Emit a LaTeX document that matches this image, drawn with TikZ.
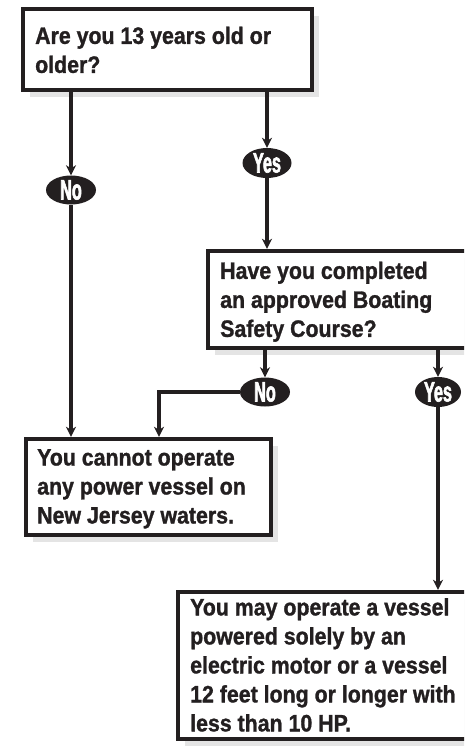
\documentclass[tikz,border=0pt]{standalone}
\usepackage{fontspec}
\newfontfamily\boxfont[FakeStretch=0.90,FakeBold=1.2]{Liberation Sans}
\newfontfamily\ovalfont[FakeStretch=0.58,FakeBold=2]{Liberation Sans}
\usetikzlibrary{arrows.meta,shapes.geometric,shadows}
\definecolor{ink}{HTML}{231F20}
\definecolor{shade}{HTML}{E4E4E4}
\begin{document}
\begin{tikzpicture}[x=1pt,y=-1pt,
  box/.style={rectangle, draw=ink, line width=4.4pt, fill=white, inner sep=0pt,
    drop shadow={shadow xshift=7pt, shadow yshift=-7pt, fill=shade, opacity=1}},
  txt/.style={anchor=north west, inner sep=0pt, align=left, text=ink,
    font=\boxfont\bfseries\fontsize{23.7pt}{29pt}\selectfont},
  oval/.style={ellipse, fill=ink, inner sep=0pt, minimum width=50pt, minimum height=29pt,
    text=white, font=\ovalfont\bfseries\fontsize{28pt}{28pt}\selectfont},
  conn/.style={draw=ink, line width=3.6pt},
  arr/.style={conn, -{Stealth[length=10pt,width=10pt,inset=3pt]}},
]
\useasboundingbox (0,0) rectangle (464,746);
\clip (0,0) rectangle (464,746);

% boxes
\node[box, minimum width=289pt, minimum height=81pt] (b1) at (167.5,49.5) {};
\node[box, minimum width=267pt, minimum height=97pt] (b2) at (341.5,299.5) {};
\node[box, minimum width=245pt, minimum height=96pt] (b3) at (148.5,487) {};
\node[box, minimum width=297pt, minimum height=147pt] (b4) at (326.5,665.5) {};

% texts
\node[txt] (t1) at (35,26.5) {Are you 13 years old or\\older?};
\node[txt] (t2) at (220,261.5) {Have you completed\\an approved Boating\\Safety Course?};
\node[txt] (t3) at (37,449) {You cannot operate\\any power vessel on\\New Jersey waters.};
\node[txt] (t4) at (190,598) {You may operate a vessel\\powered solely by an\\electric motor or a vessel\\12 feet long or longer with\\less than 10 HP.};

% ovals
\node[oval] (n1) at (71,190) {No};
\node[oval, minimum width=49pt, minimum height=30pt] (y1) at (267,163) {Yes};
\node[oval] (n2) at (265,392) {No};
\node[oval, minimum width=46pt, minimum height=30pt] (y2) at (438,392) {Yes};

\coordinate (k) at (159,392);

% connectors
\draw[arr] (b1.south -| n1) -- (n1.north);
\draw[arr] (n1.south) -- (b3.north -| n1);
\draw[arr] (b1.south -| y1) -- (y1.north);
\draw[arr] (y1.south) -- (b2.north -| y1);
\draw[arr] (b2.south -| n2) -- (n2.north);
\draw[arr] (n2.west) -| (b3.north -| k);
\draw[arr] (b2.south -| y2) -- (y2.north);
\draw[arr] (y2.south) -- (b4.north -| y2);
\end{tikzpicture}
\end{document}
